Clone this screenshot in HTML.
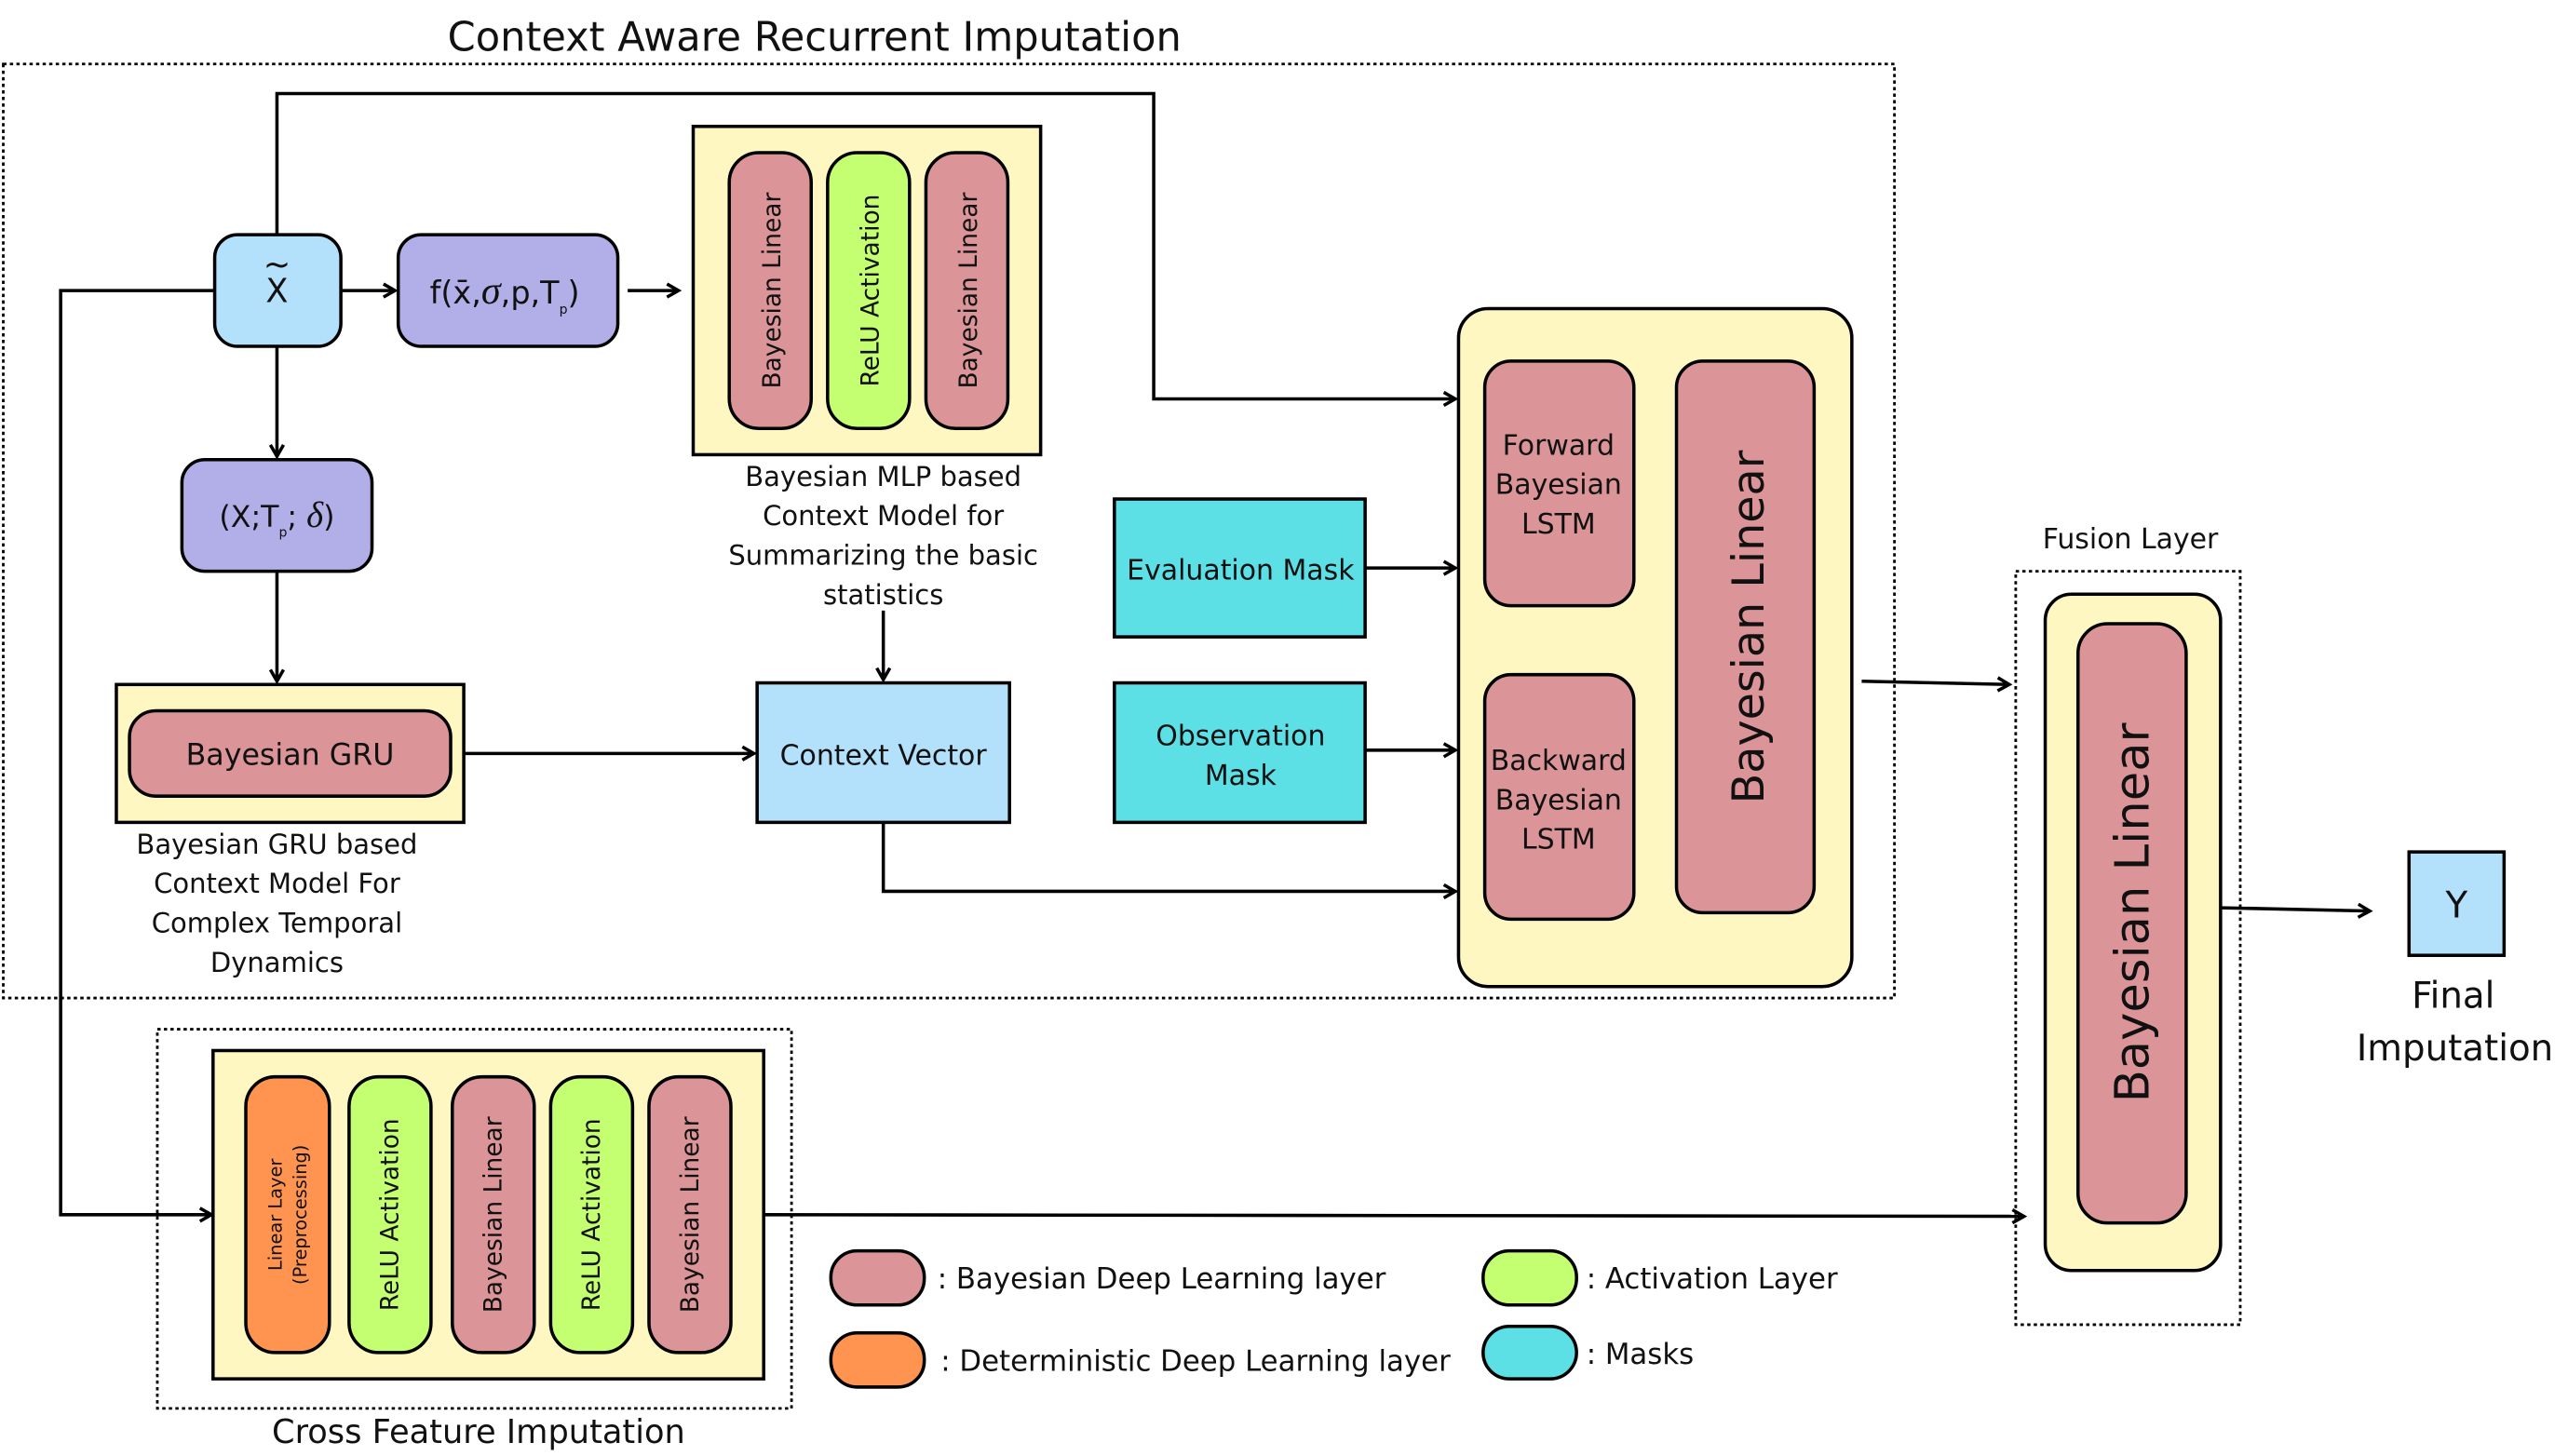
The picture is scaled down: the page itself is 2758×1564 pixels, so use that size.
<!DOCTYPE html>
<html><head><meta charset="utf-8"><style>
html,body{margin:0;padding:0;background:#fff;}
svg{display:block;}
text{font-family:"DejaVu Sans","Liberation Sans",sans-serif;fill:#111;}
</style></head><body>
<svg width="2758" height="1564" viewBox="0 0 1567 887" preserveAspectRatio="none" xmlns="http://www.w3.org/2000/svg">
<defs>
<marker id="a" markerWidth="10" markerHeight="10" refX="8" refY="5" orient="auto" markerUnits="userSpaceOnUse">
<path d="M1,1 L8,5 L1,9" fill="none" stroke="#000" stroke-width="2"/>
</marker>
</defs>
<g stroke="#000" stroke-width="2" fill="none">
<rect x="2" y="39" width="1154" height="569" stroke-dasharray="2,2" stroke-width="1.6"/>
<rect x="96" y="627" width="387" height="231" stroke-dasharray="2,2" stroke-width="1.6"/>
<rect x="1230" y="348" width="137" height="459" stroke-dasharray="2,2" stroke-width="1.6"/>
<polyline points="169,143 169,57 704,57 704,243 888,243" marker-end="url(#a)"/>
<polyline points="131,177 37,177 37,740 129,740" marker-end="url(#a)"/>
<line x1="208" y1="177" x2="241" y2="177" marker-end="url(#a)"/>
<line x1="383" y1="177" x2="414" y2="177" marker-end="url(#a)"/>
<line x1="169" y1="211" x2="169" y2="278" marker-end="url(#a)"/>
<line x1="169" y1="348" x2="169" y2="415" marker-end="url(#a)"/>
<line x1="283" y1="459" x2="460" y2="459" marker-end="url(#a)"/>
<line x1="539" y1="372" x2="539" y2="414" marker-end="url(#a)"/>
<polyline points="539,501 539,543 888,543" marker-end="url(#a)"/>
<line x1="833" y1="346" x2="888" y2="346" marker-end="url(#a)"/>
<line x1="833" y1="457" x2="888" y2="457" marker-end="url(#a)"/>
<line x1="1136" y1="415" x2="1226" y2="417" marker-end="url(#a)"/>
<line x1="1355" y1="553" x2="1446" y2="555" marker-end="url(#a)"/>
<line x1="466" y1="740" x2="1235" y2="741" marker-end="url(#a)"/>
</g>
<g stroke="#000" stroke-width="2">
<rect x="131" y="143" width="77" height="68" rx="14" fill="#b3e0fb"/>
<rect x="243" y="143" width="134" height="68" rx="14" fill="#b2aee8"/>
<rect x="111" y="280" width="116" height="68" rx="14" fill="#b2aee8"/>
<rect x="423" y="77" width="212" height="200" fill="#fff7c2"/>
<rect x="445" y="93" width="50" height="168" rx="18" fill="#db9599"/>
<rect x="505" y="93" width="50" height="168" rx="18" fill="#c3ff70"/>
<rect x="565" y="93" width="50" height="168" rx="18" fill="#db9599"/>
<rect x="71" y="417" width="212" height="84" fill="#fff7c2"/>
<rect x="79" y="433" width="196" height="52" rx="16" fill="#db9599"/>
<rect x="462" y="416" width="154" height="85" fill="#b3e0fb"/>
<rect x="680" y="304" width="153" height="84" fill="#5ce0e6"/>
<rect x="680" y="416" width="153" height="85" fill="#5ce0e6"/>
<rect x="890" y="188" width="240" height="413" rx="18" fill="#fff7c2"/>
<rect x="906" y="220" width="91" height="149" rx="16" fill="#db9599"/>
<rect x="906" y="411" width="91" height="149" rx="16" fill="#db9599"/>
<rect x="1023" y="220" width="84" height="336" rx="16" fill="#db9599"/>
<rect x="1248" y="362" width="107" height="412" rx="16" fill="#fff7c2"/>
<rect x="1268" y="380" width="66" height="365" rx="18" fill="#db9599"/>
<rect x="1470" y="519" width="58" height="63" fill="#b3e0fb"/>
<rect x="130" y="640" width="336" height="200" fill="#fff7c2"/>
<rect x="150" y="656" width="51" height="168" rx="18" fill="#ff9450"/>
<rect x="213" y="656" width="50" height="168" rx="18" fill="#c3ff70"/>
<rect x="276" y="656" width="50" height="168" rx="18" fill="#db9599"/>
<rect x="336" y="656" width="50" height="168" rx="18" fill="#c3ff70"/>
<rect x="396" y="656" width="50" height="168" rx="18" fill="#db9599"/>
<rect x="507" y="762" width="57" height="33" rx="16" fill="#db9599"/>
<rect x="507" y="812" width="57" height="33" rx="16" fill="#ff9450"/>
<rect x="905" y="762" width="57" height="33" rx="16" fill="#c3ff70"/>
<rect x="905" y="808" width="57" height="32" rx="16" fill="#5ce0e6"/>
</g>
<g text-anchor="middle">
<text x="497" y="31" font-size="24.5">Context Aware Recurrent Imputation</text>
<text x="169" y="184" font-size="20">X</text>
<text x="169" y="168" font-size="20">~</text>
<text x="308" y="185" font-size="19">f(x̄,<tspan font-style="italic" font-family="Liberation Serif" font-size="24">σ</tspan>,p,T<tspan font-size="8" dy="6">p</tspan><tspan dy="-6">)</tspan></text>
<text x="169" y="321" font-size="18">(X;T<tspan font-size="8" dy="6">p</tspan><tspan dy="-6">; </tspan><tspan font-style="italic" font-family="Liberation Serif" font-size="22">δ</tspan>)</text>
<text font-size="15" transform="translate(476,177) rotate(-90)">Bayesian Linear</text>
<text font-size="15" transform="translate(536,177) rotate(-90)">ReLU Activation</text>
<text font-size="15" transform="translate(596,177) rotate(-90)">Bayesian Linear</text>
<g font-size="16.5"><text x="539" y="296">Bayesian MLP based</text><text x="539" y="320">Context Model for</text><text x="539" y="344">Summarizing the basic</text><text x="539" y="368">statistics</text></g>
<text x="177" y="466" font-size="18">Bayesian GRU</text>
<g font-size="16.5"><text x="169" y="520">Bayesian GRU based</text><text x="169" y="544">Context Model For</text><text x="169" y="568">Complex Temporal</text><text x="169" y="592">Dynamics</text></g>
<text x="539" y="466" font-size="17">Context Vector</text>
<text x="757" y="353" font-size="17">Evaluation Mask</text>
<text x="757" y="454" font-size="17">Observation</text><text x="757" y="478" font-size="17">Mask</text>
<g font-size="17"><text x="951" y="277">Forward</text><text x="951" y="301">Bayesian</text><text x="951" y="325">LSTM</text>
<text x="951" y="469">Backward</text><text x="951" y="493">Bayesian</text><text x="951" y="517">LSTM</text></g>
<text font-size="27" transform="translate(1076,382) rotate(-90)">Bayesian Linear</text>
<text x="1300" y="334" font-size="17">Fusion Layer</text>
<text font-size="29" transform="translate(1311,556) rotate(-90)">Bayesian Linear</text>
<text x="1499" y="559" font-size="22">Y</text>
<text x="1497" y="614" font-size="22">Final</text>
<text x="1498" y="646" font-size="22">Imputation</text>
<text font-size="11" transform="translate(172,740) rotate(-90)">Linear Layer</text>
<text font-size="11" transform="translate(187,740) rotate(-90)">(Preprocessing)</text>
<text font-size="15" transform="translate(243,740) rotate(-90)">ReLU Activation</text>
<text font-size="15" transform="translate(306,740) rotate(-90)">Bayesian Linear</text>
<text font-size="15" transform="translate(366,740) rotate(-90)">ReLU Activation</text>
<text font-size="15" transform="translate(426,740) rotate(-90)">Bayesian Linear</text>
<text x="292" y="879" font-size="20">Cross Feature Imputation</text>
</g>
<g font-size="17.5">
<text x="572" y="785">: Bayesian Deep Learning layer</text>
<text x="574" y="835">: Deterministic Deep Learning layer</text>
<text x="968" y="785">: Activation Layer</text>
<text x="968" y="831">: Masks</text>
</g>
</svg>
</body></html>
